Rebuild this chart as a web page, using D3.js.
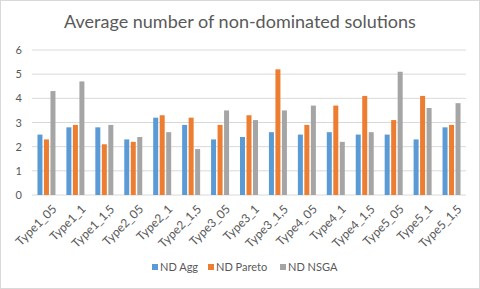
<!DOCTYPE html>
<html>
<head>
<meta charset="utf-8">
<script src="https://cdn.jsdelivr.net/npm/d3@7"></script>
<style>
  body { margin: 0; background: #fff; }
  svg { display: block; font-family: Lato, "Open Sans", sans-serif; }
</style>
</head>
<body>
<div id="container"></div>
<script>
/* DATA */
const categories = ["Type1_05", "Type1_1", "Type1_1,5", "Type2_05", "Type2_1", "Type2_1,5",
  "Type3_05", "Type3_1", "Type3_1,5", "Type4_05", "Type4_1", "Type4_1,5",
  "Type5_05", "Type5_1", "Type5_1,5"]
const seriesNames = ["ND Agg", "ND Pareto", "ND NSGA"]
const ndAgg    = [2.5, 2.8, 2.8, 2.3, 3.2, 2.9, 2.3, 2.4, 2.6, 2.5, 2.6, 2.5, 2.5, 2.3, 2.8]
const ndPareto = [2.3, 2.9, 2.1, 2.2, 3.3, 3.2, 2.9, 3.3, 5.2, 2.9, 3.7, 4.1, 3.1, 4.1, 2.9]
const ndNsga   = [4.3, 4.7, 2.9, 2.4, 2.6, 1.9, 3.5, 3.1, 3.5, 3.7, 2.2, 2.6, 5.1, 3.6, 3.8]
const yTicks = [0, 1, 2, 3, 4, 5, 6]
const colors = ["#5B9BD5", "#ED7D31", "#A5A5A5"]

const W = 480, H = 289
const margin = {top: 50, right: 14, bottom: 94, left: 32}
const width = W - margin.left - margin.right
const height = H - margin.top - margin.bottom

const svg = d3.select("#container").append("svg")
  .attr("width", W).attr("height", H)

svg.append("rect")
  .attr("x", 0.5).attr("y", 0.5).attr("width", W - 1).attr("height", H - 1)
  .attr("fill", "#fff").attr("stroke", "#d9d9d9")

svg.append("text")
  .attr("x", W / 2).attr("y", 28)
  .attr("text-anchor", "middle")
  .style("font-size", "18px")
  .style("fill", "#595959")
  .text("Average number of non-dominated solutions")

const g = svg.append("g").attr("transform", `translate(${margin.left},${margin.top})`)

// SCALES
const x = d3.scaleBand().domain(categories).range([0, width])
const yScale = d3.scaleLinear().domain([0, 6]).range([height, 0])
const barW = 5, gap = 1.5
const offset = i => (i - 1) * (barW + gap) - barW / 2

// gridlines
g.append("g").selectAll("line").data(yTicks).join("line")
  .attr("x1", 0).attr("x2", width)
  .attr("y1", d => yScale(d)).attr("y2", d => yScale(d))
  .attr("stroke", "#d9d9d9").attr("stroke-width", 1)

// y labels
g.append("g")
  .call(d3.axisLeft(yScale).tickValues(yTicks).tickFormat(d3.format("d")).tickSize(0).tickPadding(10))
  .call(a => a.select(".domain").remove())
  .call(a => a.selectAll("text").style("font-size", "11px").style("fill", "#595959")
    .style("font-family", "Lato, 'Open Sans', sans-serif"))

// bars
const series = [ndAgg, ndPareto, ndNsga]
series.forEach((vals, si) => {
  g.append("g").selectAll("rect").data(categories).join("rect")
    .attr("x", (c) => x(c) + x.bandwidth() / 2 + offset(si))
    .attr("y", (c, i) => yScale(vals[i]))
    .attr("width", barW)
    .attr("height", (c, i) => yScale(0) - yScale(vals[i]))
    .attr("fill", colors[si])
})

// x labels
g.append("g").selectAll("text").data(categories).join("text")
  .attr("transform", c => `translate(${x(c) + x.bandwidth() / 2 + 5},${height + 9}) rotate(-45)`)
  .attr("text-anchor", "end")
  .attr("dy", "0.7em")
  .style("font-size", "12px")
  .style("fill", "#595959")
  .text(c => c)

// legend
const legendX = [152, 208, 280]
const legend = svg.append("g").selectAll("g").data(seriesNames).join("g")
  .attr("transform", (d, i) => `translate(${legendX[i]},268)`)
legend.append("rect")
  .attr("x", 0).attr("y", -4).attr("width", 6).attr("height", 6)
  .attr("fill", (d, i) => colors[i])
legend.append("text")
  .attr("x", 8).attr("y", 3)
  .style("font-size", "11px")
  .style("fill", "#595959")
  .text(d => d)
</script>
</body>
</html>
